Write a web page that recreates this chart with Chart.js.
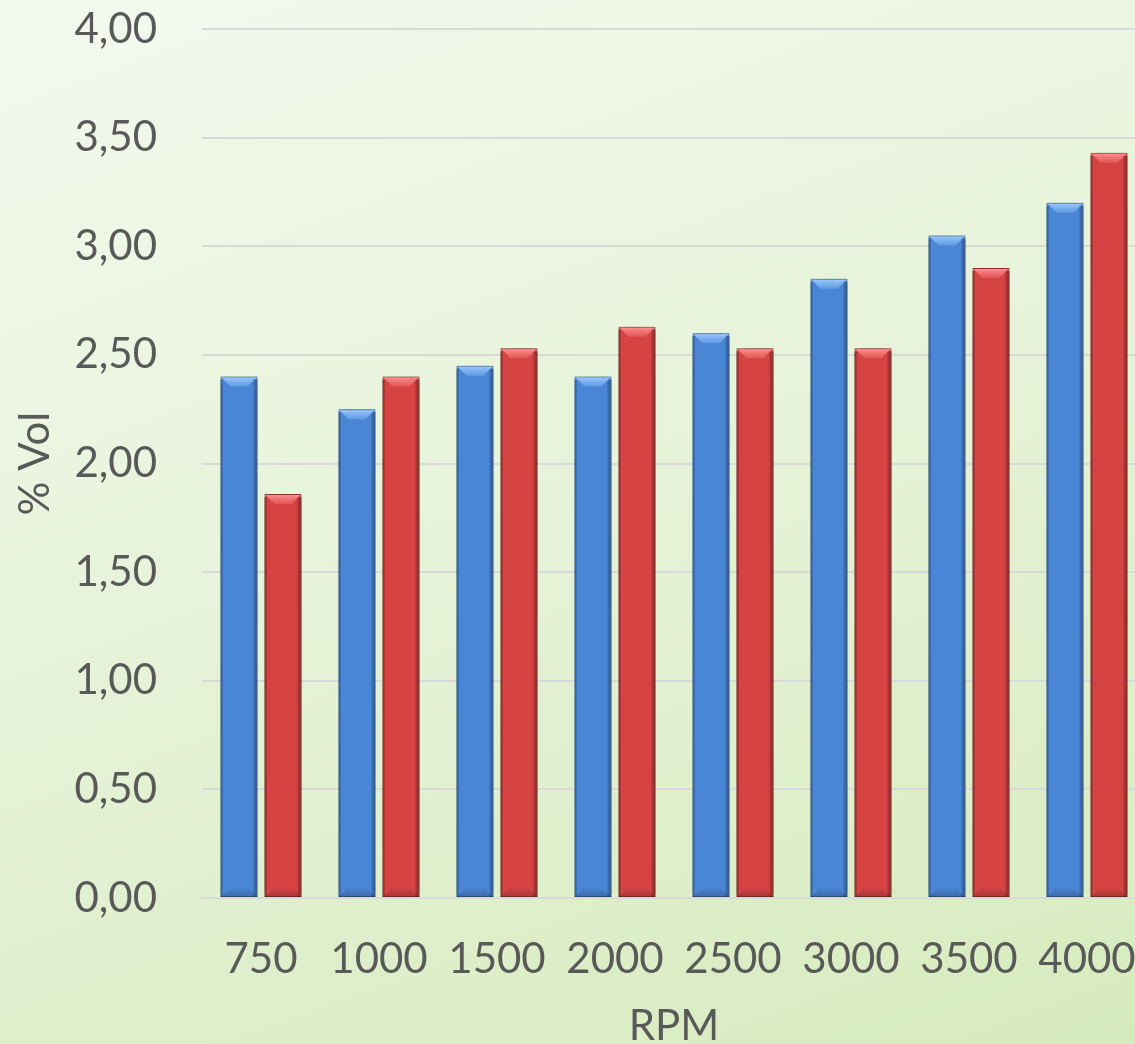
<!DOCTYPE html>
<html>
<head>
<meta charset="utf-8">
<script src="https://cdn.jsdelivr.net/npm/chart.js@4"></script>
<style>
  html, body { margin: 0; padding: 0; overflow: hidden; }
  body {
    width: 1135px; height: 1044px;
    background: linear-gradient(160deg, #f4f9ee 0%, #e7f3da 45%, #d6ebbd 100%);
  }
  #chart { display: block; }
</style>
</head>
<body>
<canvas id="chart" width="1150" height="1044"></canvas>
<script>
// Engine speed categories (RPM)
const categories = ['750', '1000', '1500', '2000', '2500', '3000', '3500', '4000'];
// Measured concentration, % by volume
const seriesA = [2.40, 2.25, 2.45, 2.40, 2.60, 2.85, 3.05, 3.20];
const seriesB = [1.86, 2.40, 2.53, 2.63, 2.53, 2.53, 2.90, 3.43];
// Y axis tick labels, 0 to 4 in steps of 0.5
const yTickLabels = ['0,00', '0,50', '1,00', '1,50', '2,00', '2,50', '3,00', '3,50', '4,00'];

const TEXT = '#595959';
const FONT = 'Lato, "Open Sans", sans-serif';

// Soft shadow behind each bar dataset
const barShadow = {
  id: 'barShadow',
  beforeDatasetDraw(chart) {
    const ctx = chart.ctx;
    ctx.save();
    ctx.shadowColor = 'rgba(30,50,20,0.55)';
    ctx.shadowBlur = 10;
    ctx.shadowOffsetX = 0;
    ctx.shadowOffsetY = 0;
  },
  afterDatasetDraw(chart) {
    chart.ctx.restore();
  }
};

// Bevelled edges painted over each bar, using the bar element geometry
const bevel = {
  id: 'bevel',
  afterDatasetsDraw(chart) {
    const ctx = chart.ctx;
    const tones = [
      { light: 'rgba(160,205,255,1)', low: 'rgba(120,175,240,0.55)', dark: 'rgba(30,70,130,0.6)' },
      { light: 'rgba(255,150,150,1)', low: 'rgba(240,105,105,0.55)', dark: 'rgba(110,20,20,0.6)' }
    ];
    chart.data.datasets.forEach((ds, di) => {
      const meta = chart.getDatasetMeta(di);
      const t = tones[di];
      meta.data.forEach(bar => {
        const { x, y, base, width } = bar.getProps(['x', 'y', 'base', 'width'], true);
        const l = x - width / 2, r = x + width / 2, top = y, bot = base;
        const b = 10;
        ctx.save();
        // top face
        const g = ctx.createLinearGradient(0, top, 0, top + b);
        g.addColorStop(0, t.light);
        g.addColorStop(1, t.low);
        ctx.fillStyle = g;
        ctx.beginPath();
        ctx.moveTo(l + 1, top + 1); ctx.lineTo(r - 1, top + 1);
        ctx.lineTo(r - b, top + b); ctx.lineTo(l + b, top + b);
        ctx.closePath(); ctx.fill();
        // right side
        const gr = ctx.createLinearGradient(r - 5, 0, r, 0);
        gr.addColorStop(0, 'rgba(0,0,0,0)');
        gr.addColorStop(1, t.dark);
        ctx.fillStyle = gr;
        ctx.fillRect(r - 5, top + 3, 5, bot - top - 3);
        // left side
        const gl = ctx.createLinearGradient(l, 0, l + 3, 0);
        gl.addColorStop(0, t.dark);
        gl.addColorStop(1, 'rgba(0,0,0,0)');
        ctx.fillStyle = gl;
        ctx.fillRect(l, top + 3, 3, bot - top - 3);
        // bottom face
        const gb = ctx.createLinearGradient(0, bot - b, 0, bot);
        gb.addColorStop(0, 'rgba(0,0,0,0)');
        gb.addColorStop(1, 'rgba(0,0,0,0.2)');
        ctx.fillStyle = gb;
        ctx.beginPath();
        ctx.moveTo(l + b, bot - b); ctx.lineTo(r - b, bot - b);
        ctx.lineTo(r, bot); ctx.lineTo(l, bot);
        ctx.closePath(); ctx.fill();
        ctx.restore();
      });
    });
  }
};

new Chart(document.getElementById('chart'), {
  type: 'bar',
  data: {
    labels: categories,
    datasets: [
      { label: 'Serie 1', data: seriesA, backgroundColor: '#4a86d6', borderColor: '#3c6fb3', borderWidth: 1, borderSkipped: false },
      { label: 'Serie 2', data: seriesB, backgroundColor: '#d54343', borderColor: '#a93535', borderWidth: 1, borderSkipped: false }
    ]
  },
  options: {
    responsive: false,
    maintainAspectRatio: false,
    devicePixelRatio: 1,
    animation: false,
    layout: { padding: { left: 0, top: 29, right: 4, bottom: 0 } },
    datasets: { bar: { categoryPercentage: 0.746, barPercentage: 0.84 } },
    plugins: { legend: { display: false }, tooltip: { enabled: false } },
    scales: {
      x: {
        grid: { display: false, drawTicks: false },
        border: { display: true, color: '#d9d9d9', width: 2 },
        ticks: { color: TEXT, font: { family: FONT, size: 42 }, padding: 36, maxRotation: 0, autoSkip: false },
        title: { display: true, text: 'RPM', color: TEXT, font: { family: FONT, size: 42, lineHeight: 0.85 }, padding: { top: 0, bottom: 0 } },
        afterFit(scale) {
          scale.height = 146;
          scale.paddingLeft = 0;
          scale.paddingRight = 0;
        }
      },
      y: {
        min: 0, max: 4,
        ticks: {
          stepSize: 0.5,
          color: TEXT,
          font: { family: FONT, size: 42 },
          padding: 45,
          callback: (v) => yTickLabels[Math.round(v / 0.5)]
        },
        grid: { color: '#d9d9d9', lineWidth: 2, drawTicks: false },
        border: { display: false },
        title: { display: true, text: '% Vol', color: TEXT, font: { family: FONT, size: 42 }, padding: { top: 10, bottom: 0 } },
        afterFit(scale) {
          scale.width = 202;
          scale.paddingTop = 0;
          scale.paddingBottom = 0;
        }
      }
    }
  },
  plugins: [barShadow, bevel]
});
</script>
</body>
</html>
